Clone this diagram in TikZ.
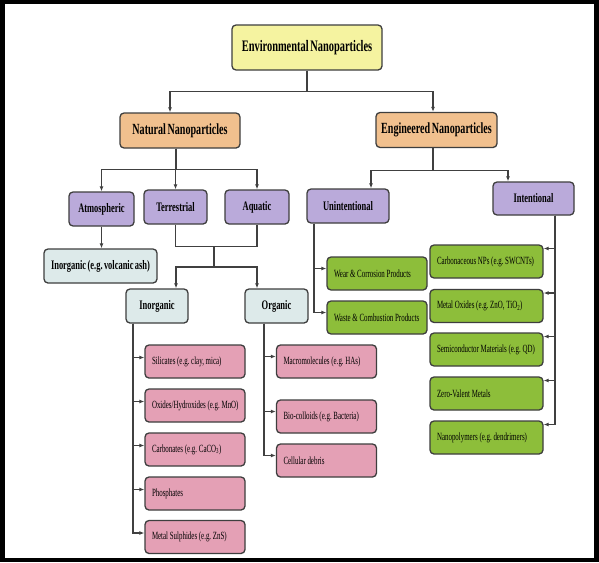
\documentclass[tikz,border=0pt]{standalone}
\usepackage{fontspec}
\setmainfont{Liberation Serif}[FakeStretch=0.65, WordSpace=0.65]
\newfontfamily\itemfont{Liberation Serif}[FakeStretch=0.63]
\usetikzlibrary{arrows.meta}

\definecolor{envyellow}{RGB}{245,243,160}
\definecolor{natorange}{RGB}{241,192,142}
\definecolor{catpurple}{RGB}{186,170,218}
\definecolor{subblue}{RGB}{221,234,234}
\definecolor{itempink}{RGB}{228,160,181}
\definecolor{itemgreen}{RGB}{141,190,58}
\definecolor{boxline}{RGB}{62,62,62}
\frenchspacing

\begin{document}
\begin{tikzpicture}[x=1pt, y=-1pt,
    box/.style={draw=boxline, line width=1.3pt, rounded corners=4pt, inner sep=0pt, align=center},
    toplevel/.style={box, font=\bfseries\fontsize{15.5}{18}\selectfont, minimum height=35},
    catbox/.style={box, fill=catpurple, font=\bfseries\fontsize{13}{15}\selectfont, minimum height=34},
    subbox/.style={box, fill=subblue, font=\bfseries\fontsize{13}{15}\selectfont, minimum height=34},
    pinkitem/.style={box, fill=itempink, font=\itemfont\fontsize{11}{13}\selectfont, align=left,
        inner xsep=7pt, text width=86, minimum height=33,
        execute at begin node={\spaceskip=1.7pt\relax\leavevmode\hbox\bgroup},
        execute at end node={\egroup}},
    greenitem/.style={pinkitem, fill=itemgreen},
    conn/.style={draw=black!75, line width=1.1pt},
    arr/.style={conn, -{Latex[length=5pt,width=4pt]}}]

    % frame
    \fill[black] (0,0) rectangle (599,562);
    \fill[white] (5,4) rectangle (594,558);

    % headers
    \node[box, fill=envyellow, minimum width=150, minimum height=45,
        font=\bfseries\fontsize{16}{18}\selectfont] (env) at (307,47.5) {Environmental Nanoparticles};
    \node[toplevel, fill=natorange, minimum width=120] (natural) at (180,130.5) {Natural Nanoparticles};
    \node[toplevel, fill=natorange, minimum width=121] (engin) at (436.5,130) {Engineered Nanoparticles};

    \node[catbox, minimum width=65] (atmos) at (101.5,209) {Atmospheric};
    \node[catbox, minimum width=63] (terr) at (175.5,207) {Terrestrial};
    \node[catbox, minimum width=64] (aquatic) at (257,207) {Aquatic};
    \node[catbox, minimum width=82] (unint) at (348,206) {Unintentional};
    \node[catbox, minimum width=81, minimum height=33] (intent) at (533.5,198.5) {Intentional};

    \node[subbox, minimum width=113] (volcanic) at (100.5,266) {Inorganic (e.g. volcanic ash)};
    \node[subbox, minimum width=62] (inorg) at (157,306) {Inorganic};
    \node[subbox, minimum width=63] (org) at (276.5,306) {Organic};

    % natural items
    \node[pinkitem] (sil) at (195,361.5) {Silicates (e.g. clay, mica)};
    \node[pinkitem] (oxi) at (195,405.5) {Oxides/Hydroxides (e.g. MnO)};
    \node[pinkitem] (carb) at (195,449.5) {Carbonates (e.g. CaCO\textsubscript{3})};
    \node[pinkitem] (phos) at (195,493.5) {Phosphates};
    \node[pinkitem] (sulf) at (195,537) {Metal Sulphides (e.g. ZnS)};

    \node[pinkitem] (macro) at (326.5,361.5) {Macromolecules (e.g. HAs)};
    \node[pinkitem] (bio) at (326.5,416.5) {Bio-colloids (e.g. Bacteria)};
    \node[pinkitem] (cell) at (326.5,460.5) {Cellular debris};

    % engineered items
    \node[greenitem] (wear) at (377,273.5) {Wear \& Corrosion Products};
    \node[greenitem] (waste) at (377,317.5) {Waste \& Combustion Products};

    \node[greenitem, text width=99] (carbon) at (486.5,261.5) {Carbonaceous NPs (e.g. SWCNTs)};
    \node[greenitem, text width=99] (metox) at (486.5,306) {Metal Oxides (e.g. ZnO, TiO\textsubscript{2})};
    \node[greenitem, text width=99] (semi) at (486.5,349.5) {Semiconductor Materials (e.g. QD)};
    \node[greenitem, text width=99] (zero) at (486.5,393.5) {Zero-Valent Metals};
    \node[greenitem, text width=99] (poly) at (486.5,437.5) {Nanopolymers (e.g. dendrimers)};

    % connectors
    \draw[arr] (env.south) -- ++(0,21) -| ([xshift=-10]natural.north);
    \draw[arr] (env.south) -- ++(0,21) -| ([xshift=-3.5]engin.north);

    \draw[arr] ([xshift=-4]natural.south) -- ++(0,21) -| (atmos.north);
    \draw[arr] ([xshift=-4]natural.south) -- ++(0,21) -| (terr.north);
    \draw[arr] ([xshift=-4]natural.south) -- ++(0,21) -| (aquatic.north);

    \draw[arr] ([xshift=-3.5]engin.south) -- ++(0,22) -| ([xshift=23]unint.north);
    \draw[arr] ([xshift=-3.5]engin.south) -- ++(0,22) -| ([xshift=-25.5]intent.north);

    \draw[arr] (atmos.south) -- (atmos.south |- volcanic.north);

    \coordinate (tajoin) at (214,246);
    \draw[conn] (terr.south) -- ++(0,22) -| (aquatic.south);
    \draw[arr] (tajoin) -- ++(0,21) -| ([xshift=19]inorg.north);
    \draw[arr] (tajoin) -- ++(0,21) -| ([xshift=-19.5]org.north);

    \foreach \b in {sil,oxi,carb,phos,sulf}
        \draw[arr] ([xshift=-24]inorg.south) |- ([yshift=4]\b.west);
    \foreach \b in {macro,bio,cell}
        \draw[arr] ([xshift=-12.5]org.south) |- ([yshift=5]\b.west);
    \foreach \b in {wear,waste}
        \draw[arr] ([xshift=-34]unint.south) |- ([yshift=5]\b.west);
    \foreach \b in {carbon,metox,semi,zero,poly}
        \draw[arr] ([xshift=21.5]intent.south) |- ([yshift=13]\b.east);
\end{tikzpicture}
\end{document}
